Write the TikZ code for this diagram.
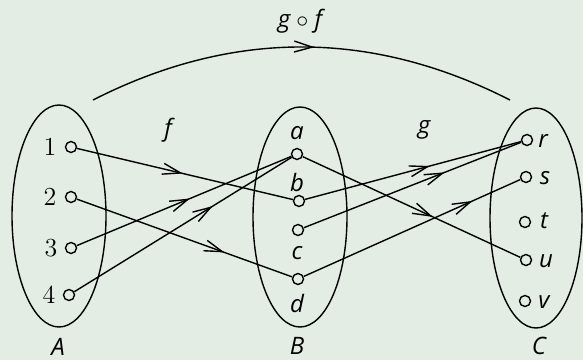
\documentclass[tikz,border=0pt]{standalone}
\usepackage{fontspec}
\newfontfamily\lettfont{Open Sans}
\usetikzlibrary{arrows.meta,decorations.markings,shapes.geometric}
\definecolor{bgc}{RGB}{227,237,228}
\tikzset{
  setell/.style={draw,ellipse,line width=0.7pt,inner sep=0pt},
  elem/.style={draw,circle,line width=0.7pt,minimum size=5.5pt,inner sep=0pt},
  lett/.style={font=\fontsize{12}{14}\selectfont\lettfont\itshape,inner sep=0pt},
  digit/.style={font=\fontsize{13}{15}\selectfont,inner sep=0pt},
  maptip/.tip={Straight Barb[length=9pt,width=5.5pt,line width=0.7pt]},
  mapline/.style={line width=0.7pt,postaction={decorate},
    decoration={markings,mark=at position #1 with {\arrow{maptip}}}}
}
\begin{document}
\begin{tikzpicture}[x=0.5pt,y=-0.5pt]
\fill[bgc] (0,0) rectangle (583,360);
\useasboundingbox (0,0) rectangle (583,360);
% sets
\node[setell,minimum width=47pt,minimum height=111pt] (setA) at (59,216) {};
\node[setell,minimum width=47pt,minimum height=110pt] (setB) at (300,217) {};
\node[setell,minimum width=46pt,minimum height=110pt] (setC) at (536,218) {};
% elements of A
\node[elem] (p1) at (71,147) {};
\node[elem] (p2) at (71,197) {};
\node[elem] (p3) at (71,248) {};
\node[elem] (p4) at (69,295) {};
\node[digit] (l1) at (50,147) {1};
\node[digit] (l2) at (50,197) {2};
\node[digit] (l3) at (51,248) {3};
\node[digit] (l4) at (49,295) {4};
% elements of B
\node[elem] (pa) at (297,154) {};
\node[elem] (pb) at (299,201) {};
\node[elem] (pc) at (298,230) {};
\node[elem] (pd) at (298,279) {};
\node[lett] (la) at (297,133) {a};
\node[lett] (lb) at (297,182) {b};
\node[lett] (lc) at (297,253) {c};
\node[lett] (ld) at (297,303) {d};
% elements of C
\node[elem] (pr) at (527,140) {};
\node[elem] (ps) at (526,177) {};
\node[elem] (pt) at (525,222) {};
\node[elem] (pu) at (526,260) {};
\node[elem] (pv) at (525,301) {};
\node[lett] (lr) at (543,141) {r};
\node[lett] (ls) at (545,178) {s};
\node[lett] (lt) at (544,221) {t};
\node[lett] (lu) at (546,261) {u};
\node[lett] (lv) at (544,302) {v};
% set names and map names
\node[lett] (nA) at (58,347) {A};
\node[lett] (nB) at (297,346) {B};
\node[lett] (nC) at (539,346) {C};
\node[lett] (nf) at (168,130) {f};
\node[lett] (ng) at (424,130) {g};
\node[lett] (ngf) at (300,21) {g {\normalfont$\circ$} f};
% f
\draw[mapline=0.49] (p1) -- (pb);
\draw[mapline=0.686] (p2) -- (pd);
\draw[mapline=0.528] (p3) -- (pa);
\draw[mapline=0.637] (p4) -- (pa);
% g
\draw[mapline=0.578] (pb) -- (pr);
\draw[mapline=0.648] (pc) -- (pr);
\draw[mapline=0.598] (pa) -- (pu);
\draw[mapline=0.779] (pd) -- (ps);
% g o f
\coordinate (arcS) at (93,100);
\coordinate (arcE) at (510,100);
\draw[mapline=0.53] (arcS) .. controls (232,29.3) and (371,29.3) .. (arcE);
\end{tikzpicture}
\end{document}
